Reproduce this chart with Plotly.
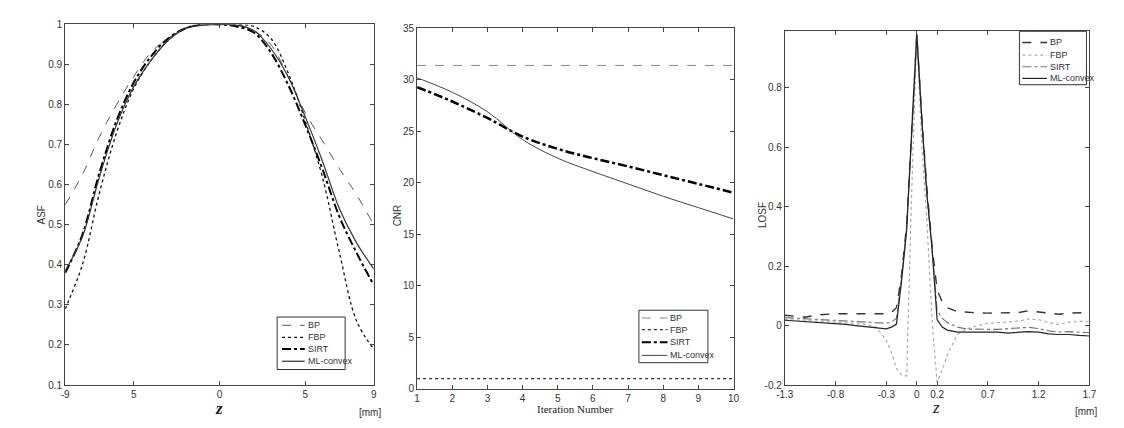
import plotly.graph_objects as go

# ---------------- data ----------------
# Panel 1: ASF vs z
z_asf = [-9, -8, -7, -6, -5, -4, -3, -2, -1, 0, 1, 2, 3, 4, 5, 6, 7, 8, 9]
asf_bp = [0.55, 0.625, 0.72, 0.80, 0.87, 0.93, 0.965, 0.99, 0.998, 1.0, 1.0, 0.985, 0.95, 0.87, 0.78, 0.71, 0.64, 0.575, 0.50]
asf_fbp = [0.29, 0.40, 0.58, 0.73, 0.84, 0.91, 0.96, 0.99, 1.0, 1.0, 1.0, 0.995, 0.965, 0.88, 0.76, 0.62, 0.43, 0.26, 0.19]
asf_sirt = [0.38, 0.475, 0.63, 0.76, 0.855, 0.92, 0.965, 0.99, 1.0, 1.0, 0.995, 0.98, 0.93, 0.85, 0.75, 0.64, 0.52, 0.43, 0.35]
asf_ml = [0.385, 0.47, 0.62, 0.75, 0.845, 0.91, 0.96, 0.99, 0.998, 1.0, 0.998, 0.985, 0.94, 0.87, 0.77, 0.66, 0.54, 0.455, 0.39]
asf_xticks = [-9, -5, 0, 5, 9]
asf_xticktext = ["-9", "5", "0", "5", "9"]
asf_yticks = [0.1, 0.2, 0.3, 0.4, 0.5, 0.6, 0.7, 0.8, 0.9, 1.0]
asf_yticktext = ["0.1", "0.2", "0.3", "0.4", "0.5", "0.6", "0.7", "0.8", "0.9", "1"]

# Panel 2: CNR vs iteration number
iters = [1, 2, 3, 4, 5, 6, 7, 8, 9, 10]
cnr_bp = [31.4, 31.4, 31.4, 31.4, 31.4, 31.4, 31.4, 31.4, 31.4, 31.4]
cnr_fbp = [1.0, 1.0, 1.0, 1.0, 1.0, 1.0, 1.0, 1.0, 1.0, 1.0]
cnr_sirt = [29.3, 27.9, 26.3, 24.5, 23.3, 22.4, 21.6, 20.75, 19.9, 19.05]
cnr_ml = [30.2, 28.8, 26.9, 24.2, 22.4, 21.1, 19.9, 18.7, 17.6, 16.5]
cnr_yticks = [0, 5, 10, 15, 20, 25, 30, 35]

# Panel 3: LOSF vs z
z_losf = [-1.3, -1.2, -1.1, -1.0, -0.9, -0.8, -0.7, -0.6, -0.5, -0.4, -0.3, -0.25, -0.2, -0.15, -0.1, -0.05,
          0, 0.05, 0.1, 0.15, 0.2, 0.25, 0.3, 0.4, 0.5, 0.6, 0.7, 0.8, 0.9, 1.0, 1.1, 1.2, 1.3, 1.4, 1.5, 1.6, 1.7]
losf_bp = [0.035, 0.032, 0.028, 0.035, 0.038, 0.04, 0.04, 0.04, 0.042, 0.04, 0.04, 0.045, 0.06, 0.17, 0.34, 0.66,
           0.98, 0.70, 0.46, 0.27, 0.12, 0.08, 0.06, 0.047, 0.044, 0.043, 0.042, 0.042, 0.043, 0.044, 0.05, 0.046, 0.042, 0.038, 0.042, 0.044, 0.044]
losf_fbp = [0.02, 0.02, 0.018, 0.015, 0.015, 0.012, 0.01, 0.008, 0.004, -0.005, -0.05, -0.09, -0.145, -0.165, -0.17, 0.45,
            0.98, 0.60, 0.35, 0.02, -0.19, -0.15, -0.10, -0.03, -0.01, 0.0, 0.008, 0.01, 0.012, 0.015, 0.022, 0.02, 0.01, 0.004, 0.012, 0.015, 0.012]
losf_sirt = [0.027, 0.025, 0.023, 0.02, 0.018, 0.016, 0.014, 0.012, 0.01, 0.008, 0.008, 0.012, 0.025, 0.16, 0.33, 0.65,
             0.98, 0.69, 0.44, 0.26, 0.05, 0.025, 0.01, -0.005, -0.012, -0.012, -0.013, -0.013, -0.01, -0.008, -0.006, -0.01, -0.018, -0.022, -0.02, -0.022, -0.024]
losf_ml = [0.018, 0.016, 0.014, 0.01, 0.008, 0.006, 0.004, 0.0, -0.004, -0.008, -0.011, -0.005, 0.005, 0.15, 0.32, 0.65,
           0.98, 0.69, 0.44, 0.26, 0.02, -0.005, -0.015, -0.022, -0.022, -0.02, -0.02, -0.022, -0.025, -0.022, -0.02, -0.022, -0.028, -0.03, -0.03, -0.033, -0.035]
losf_xticks = [-1.3, -0.8, -0.3, 0, 0.2, 0.7, 1.2, 1.7]
losf_xticktext = ["-1.3", "-0.8", "-0.3", "0", "0.2", "0.7", "1.2", "1.7"]
losf_yticks = [-0.2, 0, 0.2, 0.4, 0.6, 0.8]
losf_yticktext = ["-0.2", "0", "0.2", "0.4", "0.6", "0.8"]

names = ["BP", "FBP", "SIRT", "ML-convex"]

# ---------------- figure ----------------
W, H = 1124, 428
fig = go.Figure()

# styles per panel: (color, dash, width) for BP, FBP, SIRT, ML
styles1 = [("#555555", "dash", 1), ("#111111", "dot", 1.3), ("#000000", "dashdot", 2), ("#333333", "solid", 1.2)]
styles2 = [("#888888", "dash", 1), ("#333333", "dot", 1.2), ("#000000", "dashdot", 2.5), ("#444444", "solid", 1)]
styles3 = [("#333333", "dash", 1.4), ("#aaaaaa", "dot", 1.2), ("#777777", "dashdot", 1.2), ("#222222", "solid", 1.2)]


def add(x, y, name, xa, ya, st, shape="linear"):
    color, dash, width = st
    fig.add_trace(go.Scatter(x=x, y=y, name=name, mode="lines", xaxis=xa, yaxis=ya, showlegend=False,
                             line=dict(color=color, dash=dash, width=width, shape=shape)))

# panel 1
for ys, nm, st in zip([asf_bp, asf_fbp, asf_sirt, asf_ml], names, styles1):
    add(z_asf, ys, nm, "x", "y", st, "spline")
# panel 2
add(iters, cnr_bp, names[0], "x2", "y2", styles2[0])
add(iters, cnr_fbp, names[1], "x2", "y2", styles2[1])
add(iters, cnr_sirt, names[2], "x2", "y2", styles2[2], "spline")
add(iters, cnr_ml, names[3], "x2", "y2", styles2[3], "spline")
# panel 3
for ys, nm, st in zip([losf_bp, losf_fbp, losf_sirt, losf_ml], names, styles3):
    add(z_losf, ys, nm, "x3", "y3", st)


def px(x):
    return x / W


def py(y):
    return 1 - y / H


tickfont = dict(family="Liberation Sans, Arial, sans-serif", size=10, color="#333333")
axcommon = dict(showline=True, linecolor="#444444", linewidth=1, mirror="ticks", ticks="inside",
                ticklen=4, tickcolor="#444444", showgrid=False, zeroline=False, tickfont=tickfont)

fig.update_layout(
    width=W, height=H, margin=dict(l=0, r=0, t=0, b=0),
    paper_bgcolor="white", plot_bgcolor="white", showlegend=False,
    xaxis=dict(domain=[px(57), px(370)], range=[-9, 9], tickvals=asf_xticks, ticktext=asf_xticktext,
               anchor="y", **axcommon),
    yaxis=dict(domain=[py(390), py(19)], range=[0.1, 1.0], tickvals=asf_yticks, ticktext=asf_yticktext,
               anchor="x", **axcommon),
    xaxis2=dict(domain=[px(414), px(735)], range=[1, 10], tickvals=iters, anchor="y2", **axcommon),
    yaxis2=dict(domain=[py(394), py(23)], range=[0, 35], tickvals=cnr_yticks, anchor="x2", **axcommon),
    xaxis3=dict(domain=[px(787), px(1096)], range=[-1.3, 1.7], tickvals=losf_xticks, ticktext=losf_xticktext,
                anchor="y3", **axcommon),
    yaxis3=dict(domain=[py(390), py(26)], range=[-0.2, 0.99], tickvals=losf_yticks, ticktext=losf_yticktext,
                anchor="x3", **axcommon),
)

# ---- compact MATLAB-style legends (box, sample lines, labels) ----
legfont = dict(family="Liberation Sans, Arial, sans-serif", size=9, color="#333333")


def legend_box(x0, x1, y0, y1, rows, lx0, lx1, styles):
    fig.add_shape(type="rect", xref="paper", yref="paper", x0=px(x0), x1=px(x1), y0=py(y1), y1=py(y0),
                  line=dict(color="#333333", width=1), fillcolor="white", layer="above")
    for ry, nm, (color, dash, width) in zip(rows, names, styles):
        fig.add_shape(type="line", xref="paper", yref="paper", x0=px(lx0), x1=px(lx1), y0=py(ry), y1=py(ry),
                      line=dict(color=color, dash=dash, width=min(width, 2)), layer="above")
        fig.add_annotation(xref="paper", yref="paper", x=px(lx1 + 1), y=py(ry), text=nm, showarrow=False,
                           xanchor="left", yanchor="middle", font=legfont)


legend_box(272, 341, 320, 374, [328.5, 341, 353, 365.5], 277, 300, styles1)
legend_box(639, 709, 313, 367, [321, 333, 346, 359.5], 642, 668, styles2)
legend_box(1025, 1093, 26, 81, [37.5, 50.5, 62.5, 74.5], 1028, 1053, styles3)

lab = dict(family="Liberation Sans, Arial, sans-serif", size=10, color="#333333")
serif_it = dict(family="Liberation Serif, Times New Roman, serif", size=17, color="#222222")
ann = [
    dict(x=px(33), y=py(215), text="ASF", textangle=-90, font=lab),
    dict(x=px(213), y=py(414), text="<b><i>z</i></b>", font=serif_it),
    dict(x=px(366), y=py(418), text="[mm]", font=lab),
    dict(x=px(395), y=py(215), text="CNR", textangle=-90, font=lab),
    dict(x=px(574), y=py(415), text="Iteration Number",
         font=dict(family="Liberation Serif, Times New Roman, serif", size=11, color="#222222")),
    dict(x=px(765), y=py(215), text="LOSF", textangle=-90, font=lab),
    dict(x=px(940), y=py(413), text="<i>z</i>", font=serif_it),
    dict(x=px(1093), y=py(417), text="[mm]", font=lab),
]
for a in ann:
    fig.add_annotation(xref="paper", yref="paper", showarrow=False, xanchor="center", yanchor="middle", **a)

fig.write_html("out.html")
